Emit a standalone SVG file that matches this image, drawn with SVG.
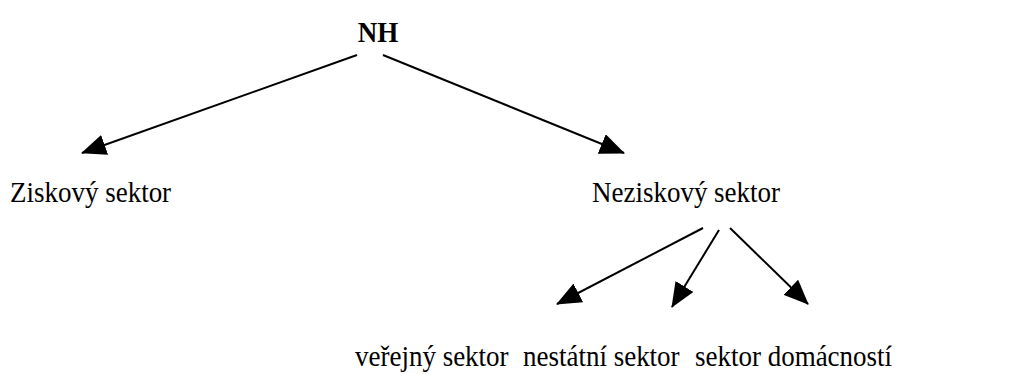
<svg xmlns="http://www.w3.org/2000/svg" width="1017" height="374" viewBox="0 0 1017 374">
<defs>
<style>
.c{stroke:#000;stroke-width:2;fill:none;marker-end:url(#ah)}
.t{font-family:'Liberation Serif',serif;font-size:30px;fill:#000}
.b{font-weight:bold}
</style>
<marker id="ah" viewBox="0 0 25 21" refX="24" refY="10.5" markerWidth="25" markerHeight="21" markerUnits="userSpaceOnUse" orient="auto">
<path d="M0,0 L25,10.5 L0,21 Z" fill="#000"/>
</marker>
</defs>
<rect width="1017" height="374" fill="#fff"/>
<g id="connectors">
<line class="c" x1="357" y1="55" x2="82" y2="153"/>
<line class="c" x1="383" y1="55" x2="624" y2="153"/>
<line class="c" x1="703" y1="228" x2="557" y2="304"/>
<line class="c" x1="719" y1="230" x2="672" y2="307"/>
<line class="c" x1="730" y1="228" x2="808" y2="304"/>
</g>
<g id="n-nh"><text class="t b" transform="translate(378,42) scale(0.9,1)" text-anchor="middle">NH</text></g>
<g id="n-ziskovy"><text class="t" transform="translate(10,202) scale(0.9,1)">Ziskový sektor</text></g>
<g id="n-neziskovy"><text class="t" transform="translate(592,202) scale(0.9,1)">Neziskový sektor</text></g>
<g id="n-verejny"><text class="t" transform="translate(355,366) scale(0.9,1)">veřejný sektor</text></g>
<g id="n-nestatni"><text class="t" transform="translate(523,366) scale(0.9,1)">nestátní sektor</text></g>
<g id="n-domacnosti"><text class="t" transform="translate(695,366) scale(0.9,1)">sektor domácností</text></g>
</svg>
